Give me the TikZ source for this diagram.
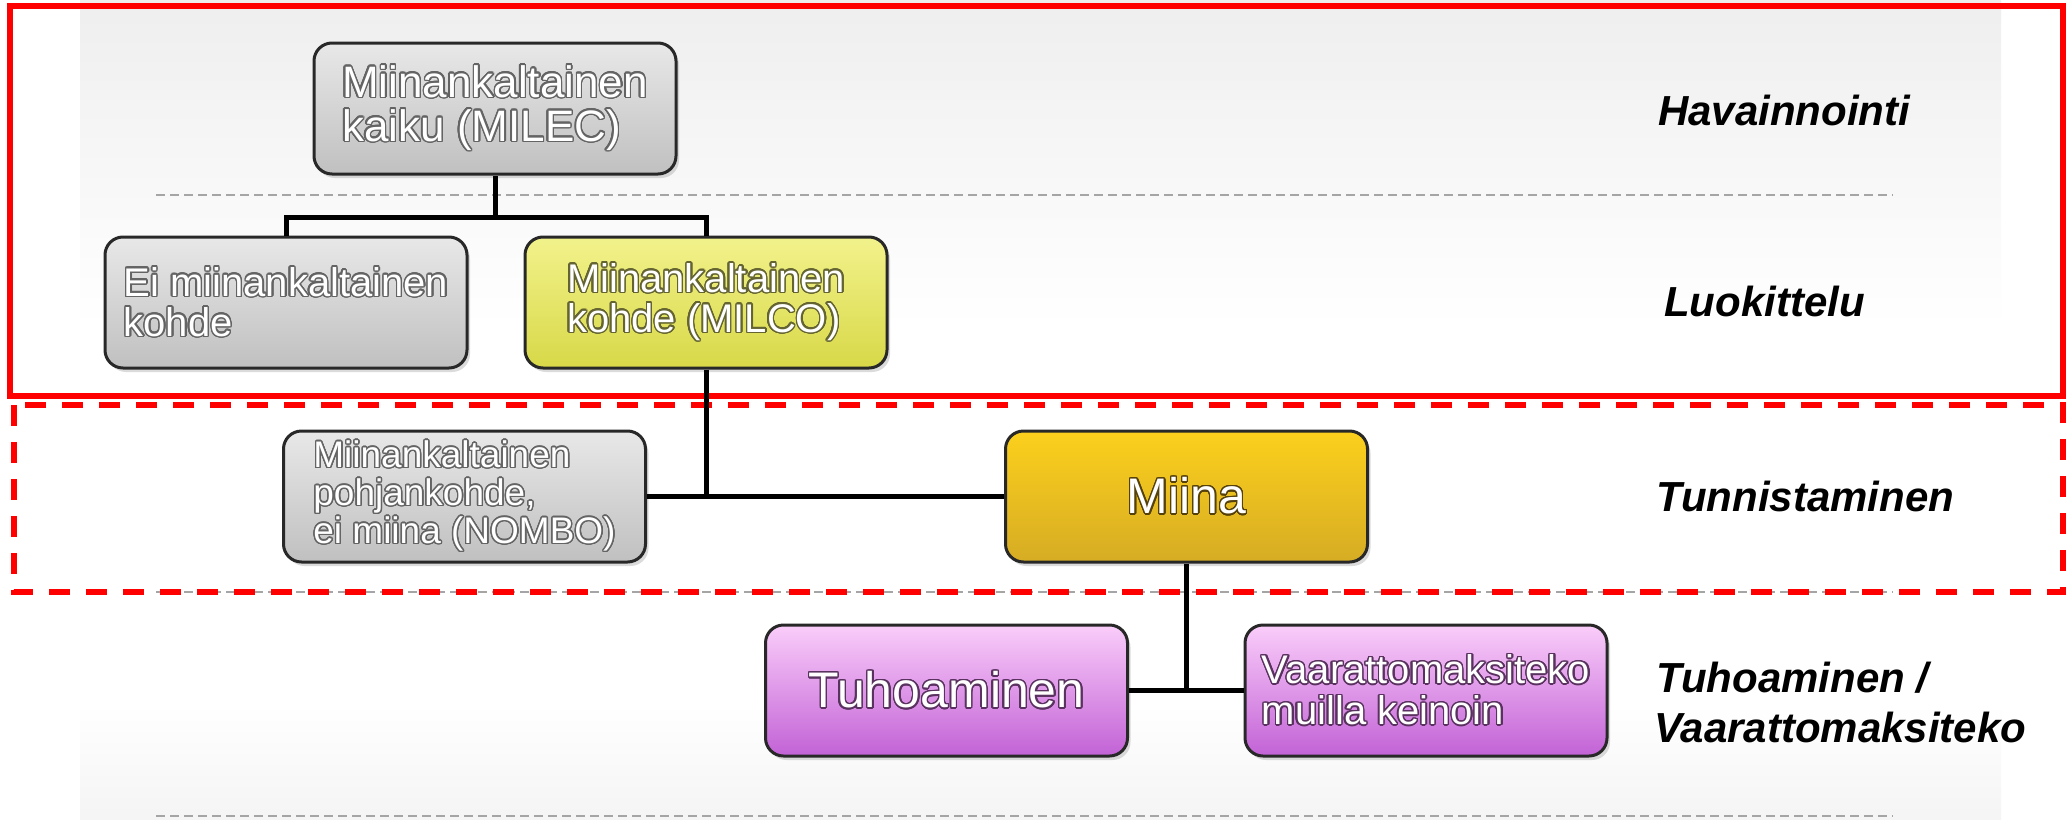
\documentclass[tikz,border=0pt]{standalone}
\usepackage{fontspec}
\setmainfont{Liberation Sans}
\usepackage[copies]{contour}
\usetikzlibrary{shadows}
\contourlength{1.4pt}
\contournumber{24}

\definecolor{grayT}{RGB}{232,232,232}
\definecolor{grayB}{RGB}{192,192,192}
\definecolor{yelT}{RGB}{242,242,140}
\definecolor{yelB}{RGB}{216,216,72}
\definecolor{goldT}{RGB}{252,208,28}
\definecolor{goldB}{RGB}{214,172,36}
\definecolor{purT}{RGB}{250,205,250}
\definecolor{purB}{RGB}{194,98,214}
\definecolor{grayO}{RGB}{100,100,100}
\definecolor{yelO}{RGB}{100,100,50}
\definecolor{goldO}{RGB}{85,65,10}
\definecolor{purO}{RGB}{90,50,95}
\definecolor{boxline}{RGB}{40,40,40}
\definecolor{bgT}{RGB}{206,206,206}
\definecolor{bgM}{RGB}{234,234,234}
\definecolor{bgL}{RGB}{246,246,246}
\definecolor{bgB}{RGB}{218,218,218}
\definecolor{sepgray}{RGB}{165,165,165}
\definecolor{redline}{RGB}{255,0,0}

\pgfdeclareverticalshading{bgshade}{100bp}{color(0bp)=(bgB); color(18bp)=(bgM); color(32bp)=(white); color(55bp)=(white); color(66bp)=(bgL); color(80bp)=(bgM); color(100bp)=(bgT)}

\begin{document}
\begin{tikzpicture}[x=1pt,y=-1pt,
  box/.style={draw=boxline, line width=3pt, rounded corners=18pt,
    minimum width=362pt, minimum height=131pt, inner sep=0pt, align=left,
    text=white, drop shadow={opacity=0.28, shadow xshift=3pt, shadow yshift=-4pt}},
  graybox/.style={box, top color=grayT, bottom color=grayB},
  yelbox/.style={box, top color=yelT, bottom color=yelB},
  goldbox/.style={box, top color=goldT, bottom color=goldB},
  purbox/.style={box, top color=purT, bottom color=purB},
  conn/.style={line width=5pt, black},
  sepline/.style={sepgray, line width=1.5pt, dash pattern=on 9pt off 5pt},
  frame/.style={redline, line width=5.5pt},
  stage/.style={anchor=base west, inner sep=0pt, font=\fontsize{42}{50}\selectfont\bfseries\itshape}
]
\useasboundingbox (0,0) rectangle (2066,819);
\fill[white] (0,0) rectangle (2066,819);
\shade[shading=bgshade] (80,0) rectangle (2001,819);

% separator lines
\draw[sepline] (156,195) -- (1893,195);
\draw[sepline] (156,592) -- (1893,592);
\draw[sepline] (156,816) -- (1893,816);

% red frames
\draw[frame] (10,6) rectangle (2063,396);
\draw[frame, dash pattern=on 21pt off 16pt] (14,405) rectangle (2063,592);

% boxes
\node[graybox, font=\fontsize{44}{44}\selectfont] (milec) at (495,108.5)
  {\contour{grayO}{Miinankaltainen}\\\contour{grayO}{kaiku (MILEC)}};
\node[graybox, font=\fontsize{40}{40}\selectfont] (ei) at (286,302.5)
  {\contour{grayO}{Ei miinankaltainen}\\\contour{grayO}{kohde}};
\node[yelbox, font=\fontsize{40}{40}\selectfont] (milco) at (706,302.5)
  {\contour{yelO}{Miinankaltainen}\\\contour{yelO}{kohde (MILCO)}};
\node[graybox, font=\fontsize{37}{38}\selectfont] (nombo) at (464.5,496.5)
  {\contour{grayO}{Miinankaltainen}\\\contour{grayO}{pohjankohde,}\\\contour{grayO}{ei miina (NOMBO)}};
\node[goldbox, font=\fontsize{50}{50}\selectfont] (miina) at (1186.5,496.5)
  {\contour{goldO}{Miina}};
\node[purbox, font=\fontsize{50}{50}\selectfont] (tuho) at (946.5,690.5)
  {\contour{purO}{Tuhoaminen}};
\node[purbox, font=\fontsize{40}{41}\selectfont] (vaar) at (1426,690.5)
  {\contour{purO}{Vaarattomaksiteko}\\\contour{purO}{muilla keinoin}};

% connectors
\coordinate (j1) at (495,217);
\draw[conn] (milec.south) -- (j1);
\draw[conn] (j1) -| (ei.north);
\draw[conn] (j1) -| (milco.north);
\draw[conn] (milco.south) |- (nombo.east);
\draw[conn] (nombo.east) -- (miina.west);
\draw[conn] (miina.south) |- (tuho.east);
\draw[conn] (tuho.east) -- (vaar.west);

% stage labels
\node[stage] (s1) at (1658,125) {Havainnointi};
\node[stage] (s2) at (1664,316) {Luokittelu};
\node[stage] (s3) at (1656,511) {Tunnistaminen};
\node[stage] (s4a) at (1656,692) {Tuhoaminen /};
\node[stage] (s4b) at (1654,742) {Vaarattomaksiteko};
\end{tikzpicture}
\end{document}
